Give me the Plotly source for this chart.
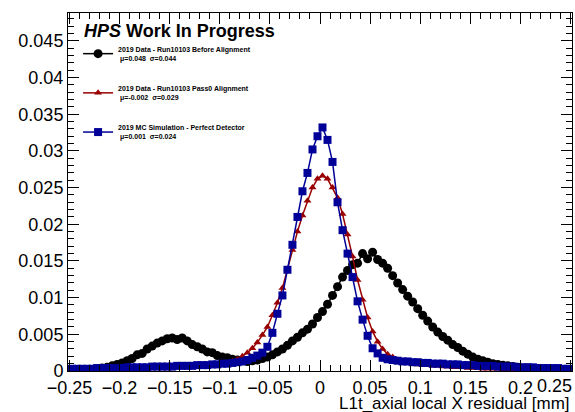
import numpy as np
import plotly.graph_objects as go

# ---- data (bin contents, 100 bins of 0.005 from -0.25 to 0.25) ----
x_min, x_max, n_bins = -0.25, 0.25, 100

before_align = [
    0.0001, 0.0001, 0.0002, 0.0002, 0.0002, 0.0003, 0.0004, 0.0005, 0.0007, 0.0009,
    0.0011, 0.0014, 0.0017, 0.0022, 0.0024, 0.0030, 0.0034, 0.0038, 0.0041, 0.0044,
    0.0045, 0.0043, 0.0045, 0.0041, 0.0036, 0.0033, 0.0030, 0.0026, 0.0025, 0.0021,
    0.0019, 0.0018, 0.0016, 0.0015, 0.0014, 0.0013, 0.0014, 0.0015, 0.0017, 0.0019,
    0.0022, 0.0026, 0.0030, 0.0035, 0.0041, 0.0046, 0.0052, 0.0057, 0.0064, 0.0073,
    0.0081, 0.0091, 0.0103, 0.0115, 0.0128, 0.0137, 0.0145, 0.0147, 0.0160, 0.0153,
    0.0162, 0.0152, 0.0147, 0.0140, 0.0130, 0.0120, 0.0111, 0.0102, 0.0094, 0.0085,
    0.0076, 0.0068, 0.0060, 0.0053, 0.0047, 0.0042, 0.0036, 0.0032, 0.0027, 0.0023,
    0.0019, 0.0016, 0.0014, 0.0012, 0.0010, 0.0009, 0.0008, 0.0007, 0.0006, 0.0005,
    0.0004, 0.0004, 0.0003, 0.0003, 0.0002, 0.0002, 0.0002, 0.0001, 0.0001, 0.0001,
]

pass0_align = [
    0.0001, 0.0001, 0.0001, 0.0001, 0.0001, 0.0002, 0.0002, 0.0002, 0.0002, 0.0002,
    0.0002, 0.0003, 0.0003, 0.0003, 0.0003, 0.0003, 0.0004, 0.0004, 0.0004, 0.0004,
    0.0005, 0.0005, 0.0005, 0.0006, 0.0006, 0.0006, 0.0007, 0.0008, 0.0008, 0.0009,
    0.0010, 0.0011, 0.0013, 0.0016, 0.0020, 0.0025, 0.0031, 0.0039, 0.0049, 0.0060,
    0.0076, 0.0093, 0.0113, 0.0139, 0.0165, 0.0190, 0.0212, 0.0232, 0.0250, 0.0262,
    0.0266, 0.0262, 0.0250, 0.0236, 0.0214, 0.0186, 0.0156, 0.0124, 0.0097, 0.0073,
    0.0054, 0.0040, 0.0030, 0.0023, 0.0019, 0.0015, 0.0013, 0.0011, 0.0010, 0.0009,
    0.0008, 0.0008, 0.0007, 0.0007, 0.0006, 0.0006, 0.0005, 0.0005, 0.0005, 0.0004,
    0.0004, 0.0004, 0.0003, 0.0003, 0.0003, 0.0003, 0.0002, 0.0002, 0.0002, 0.0002,
    0.0002, 0.0002, 0.0001, 0.0001, 0.0001, 0.0001, 0.0001, 0.0001, 0.0001, 0.0001,
]

mc_perfect = [
    0.0003, 0.0003, 0.0003, 0.0003, 0.0003, 0.0004, 0.0004, 0.0004, 0.0004, 0.0004,
    0.0004, 0.0005, 0.0005, 0.0005, 0.0005, 0.0005, 0.0006, 0.0006, 0.0006, 0.0006,
    0.0006, 0.0007, 0.0007, 0.0007, 0.0007, 0.0008, 0.0008, 0.0008, 0.0009, 0.0009,
    0.0010, 0.0010, 0.0011, 0.0012, 0.0013, 0.0015, 0.0018, 0.0021, 0.0025, 0.0033,
    0.0052, 0.0078, 0.0103, 0.0138, 0.0172, 0.0210, 0.0245, 0.0270, 0.0302, 0.0320,
    0.0332, 0.0315, 0.0285, 0.0230, 0.0192, 0.0160, 0.0128, 0.0095, 0.0070, 0.0048,
    0.0031, 0.0024, 0.0018, 0.0016, 0.0015, 0.0014, 0.0013, 0.0013, 0.0012, 0.0012,
    0.0011, 0.0011, 0.0010, 0.0010, 0.0010, 0.0009, 0.0009, 0.0009, 0.0008, 0.0008,
    0.0008, 0.0007, 0.0007, 0.0007, 0.0007, 0.0006, 0.0006, 0.0006, 0.0006, 0.0005,
    0.0005, 0.0005, 0.0005, 0.0004, 0.0004, 0.0004, 0.0004, 0.0004, 0.0003, 0.0003,
]

series_names = [
    "<b>2019 Data - Run10103 Before Alignment</b><br><b> μ=0.048  σ=0.044</b>",
    "<b>2019 Data - Run10103 Pass0 Alignment</b><br><b> μ=-0.002  σ=0.029</b>",
    "<b>2019 MC Simulation - Perfect Detector</b><br><b> μ=0.001  σ=0.024</b>",
]
series_colors = ["#000000", "#990000", "#000099"]
series_symbols = ["circle", "triangle-up", "square"]
series_sizes = [9, 7, 8]

x_tickvals = [-0.25, -0.2, -0.15, -0.1, -0.05, 0, 0.05, 0.1, 0.15, 0.2, 0.25]
x_ticktext = ["−0.25", "−0.2", "−0.15", "−0.1", "−0.05", "0", "0.05", "0.1", "0.15", "0.2", ""]
x_last_label = "0.25"
x_title = "L1t_axial local X residual [mm]"

edges = np.linspace(x_min, x_max, n_bins + 1)
centers = 0.5 * (edges[:-1] + edges[1:])

fig = go.Figure()
for i, (vals, name, col, sym, sz) in enumerate(
        zip([before_align, pass0_align, mc_perfect], series_names, series_colors,
            series_symbols, series_sizes)):
    fig.add_trace(go.Scatter(
        x=centers, y=vals, name=name, mode="lines+markers",
        line=dict(color=col, width=1.5),
        marker=dict(color=col, symbol=sym, size=sz, line=dict(width=0)),
        legendgroup=str(i),
    ))

font = "Liberation Sans, Arial, Helvetica, sans-serif"
axis_common = dict(
    showgrid=False, zeroline=False, showline=True, linecolor="black", linewidth=1,
    mirror="ticks", ticks="inside", tickcolor="black", tickwidth=1,
    tickfont=dict(family=font, size=18, color="black"),
)
fig.update_xaxes(range=[x_min - 0.0015, x_max + 0.0015], tickmode="array",
                 tickvals=x_tickvals, ticktext=x_ticktext, ticklen=11,
                 minor=dict(ticks="inside", dtick=0.01, tick0=0, ticklen=6, tickcolor="black"),
                 **axis_common)
fig.update_yaxes(range=[0, 0.0488], dtick=0.005, tick0=0, ticklen=11,
                 minor=dict(ticks="inside", dtick=0.001, ticklen=6, tickcolor="black"),
                 **axis_common)

fig.add_annotation(
    text=x_last_label, xref="paper", yref="paper", x=1, y=0, xanchor="right", yanchor="top",
    yshift=-3, xshift=2, showarrow=False, font=dict(family=font, size=18, color="black"))
fig.add_annotation(
    text=x_title, xref="paper", yref="paper", x=1, y=0, xanchor="right", yanchor="top",
    yshift=-21, showarrow=False, font=dict(family=font, size=17, color="black"))
fig.add_annotation(
    text="<b><i>HPS</i> Work In Progress</b>", xref="paper", yref="paper",
    x=0.028, y=0.951, xanchor="left", yanchor="middle", showarrow=False,
    font=dict(family=font, size=18, color="black"))

fig.update_layout(
    width=575, height=412,
    margin=dict(l=68, r=3, t=13, b=41),
    paper_bgcolor="white", plot_bgcolor="white",
    showlegend=True,
    legend=dict(x=0.02, y=0.93, xanchor="left", yanchor="top",
                bgcolor="rgba(0,0,0,0)", tracegroupgap=18,
                font=dict(family=font, size=7, color="black"),
                itemwidth=30),
)

fig.write_html("out.html")
